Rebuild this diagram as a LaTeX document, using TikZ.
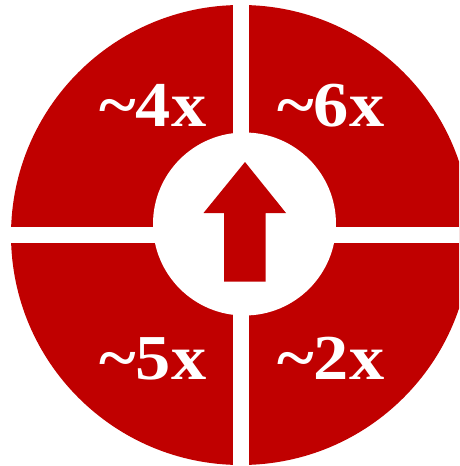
\documentclass[tikz,border=0pt]{standalone}
\usepackage{fontspec}
\setmainfont{Liberation Serif}
\newfontfamily\factorfont[FakeStretch=1.1]{Liberation Serif}
\usepackage{xcolor}
\usepackage{tikz}
\usetikzlibrary{positioning}
\definecolor{darkred}{RGB}{192,0,0}

\begin{document}
\begin{tikzpicture}[
  x=1pt, y=-1pt,
  ring/.style={fill=darkred},
  gap/.style={fill=white},
  factor/.style={text=white, font=\factorfont\fontsize{64}{64}\selectfont\bfseries, inner sep=0pt, anchor=base west}]
  \useasboundingbox (0,0) rectangle (459,466);
  \clip (0,0) rectangle (459,466);
  % red disc, cut into four parts by white bars
  \fill[ring] (241,235) circle (230);
  \fill[gap] (233,0) rectangle (249,466);
  \fill[gap] (0,227) rectangle (459,243);
  \fill[gap] (244.5,224) circle (91.5);
  % arrow in the middle
  \fill[ring] (245,162) -- (286,213) -- (265.5,213) -- (265.5,281.5) -- (224,281.5) -- (224,213) -- (203.5,213) -- cycle;
  % the four factors
  \node[factor] (tl) at (99,126) {\char`\~4x};
  \node[factor] (tr) at (277,126) {\char`\~6x};
  \node[factor] (bl) at (99,379) {\char`\~5x};
  \node[factor] (br) at (277,379) {\char`\~2x};
\end{tikzpicture}
\end{document}
